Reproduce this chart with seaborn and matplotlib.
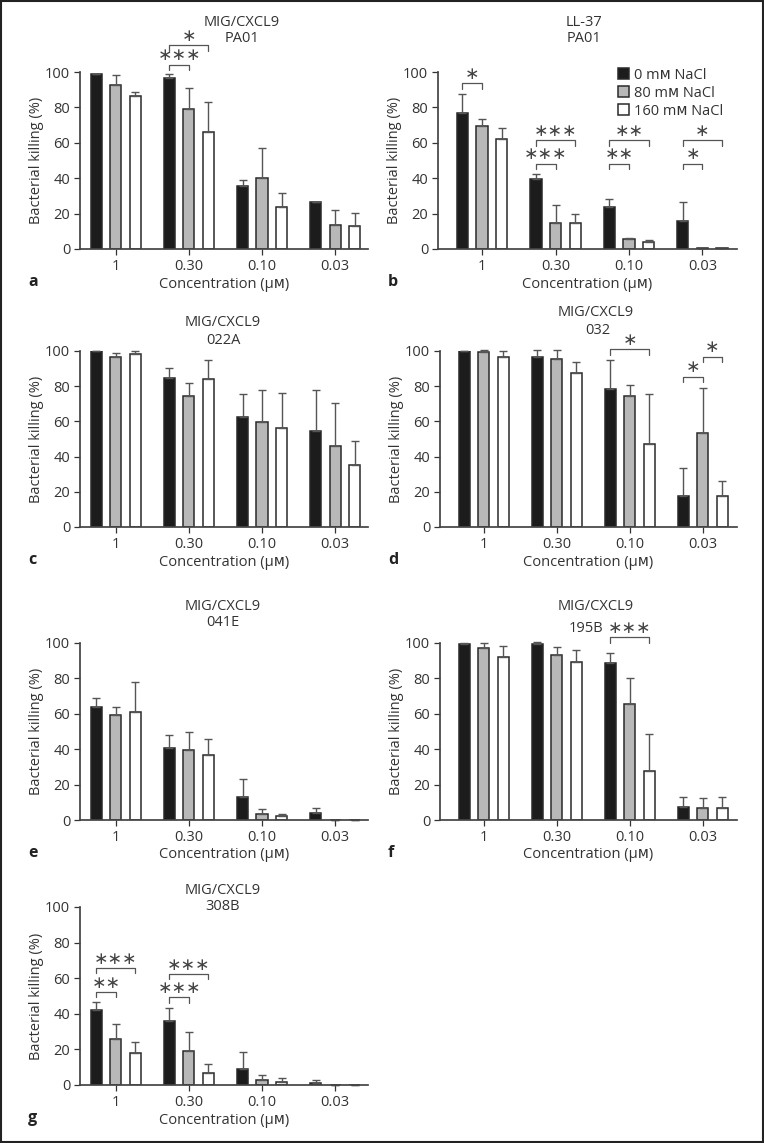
import numpy as np
import pandas as pd
import matplotlib.pyplot as plt
import seaborn as sns
from matplotlib.patches import Rectangle

# x categories and hue levels
concentrations = ["1", "0.30", "0.10", "0.03"]
salts = ["0 mᴍ NaCl", "80 mᴍ NaCl", "160 mᴍ NaCl"]

# bacterial killing (%), mean and SD per salt level
a_mean = [[99.0, 96.8, 35.4, 26.3], [92.5, 79.1, 39.9, 13.3], [86.5, 66.2, 23.5, 12.8]]
a_sd = [[0.0, 2.2, 3.6, 0.5], [5.8, 12.1, 17.2, 8.9], [2.0, 17.1, 8.1, 7.3]]

b_mean = [[77.0, 39.6, 24.0, 15.9], [69.5, 14.7, 5.5, 0.3], [62.0, 14.7, 4.2, 0.3]]
b_sd = [[10.4, 2.7, 4.1, 10.4], [3.7, 10.4, 0.7, 0.0], [6.5, 4.8, 0.7, 0.0]]

c_mean = [[99.8, 84.5, 62.6, 54.5], [96.8, 74.5, 59.4, 46.0], [98.3, 84.2, 56.2, 35.3]]
c_sd = [[0.0, 6.1, 12.9, 23.6], [2.1, 7.5, 18.7, 24.2], [1.7, 10.5, 20.0, 13.6]]

d_mean = [[100.0, 96.8, 78.5, 17.4], [99.6, 95.7, 74.2, 53.2], [96.4, 87.5, 47.2, 17.4]]
d_sd = [[0.0, 4.0, 16.2, 16.2], [1.2, 5.1, 6.4, 26.0], [3.8, 6.3, 28.1, 8.6]]

e_mean = [[63.6, 40.9, 13.2, 3.8], [59.4, 39.6, 3.2, 0.2], [60.9, 36.6, 2.3, 0.2]]
e_sd = [[5.6, 7.0, 9.8, 3.2], [4.2, 10.0, 3.0, 0.0], [17.0, 9.2, 1.1, 0.0]]

f_mean = [[99.7, 99.7, 88.7, 7.2], [97.0, 93.2, 65.8, 6.6], [92.0, 89.0, 27.9, 6.6]]
f_sd = [[0.3, 0.6, 5.6, 5.8], [2.8, 4.3, 14.4, 6.0], [6.1, 7.2, 20.6, 6.6]]

g_mean = [[42.0, 36.2, 9.2, 1.3], [26.1, 19.0, 2.6, 0.2], [18.0, 6.8, 1.9, 0.2]]
g_sd = [[4.5, 7.0, 9.6, 1.7], [8.0, 10.6, 3.2, 0.0], [6.4, 4.8, 1.9, 0.0]]

# significance brackets: (concentration index, salt i, salt j, height, label)
a_sig = [(1, 0, 2, 115, "∗"), (1, 0, 1, 104, "∗∗∗")]
b_sig = [(0, 0, 1, 93.6, "∗"),
         (1, 0, 2, 61.3, "∗∗∗"), (1, 0, 1, 48.1, "∗∗∗"),
         (2, 0, 2, 61.3, "∗∗"), (2, 0, 1, 48.1, "∗∗"),
         (3, 0, 2, 61.3, "∗"), (3, 0, 1, 48.1, "∗")]
d_sig = [(2, 0, 2, 101, "∗"), (3, 0, 1, 85.4, "∗"), (3, 1, 2, 96.8, "∗")]
f_sig = [(2, 0, 2, 103.2, "∗∗∗")]
g_sig = [(0, 0, 2, 65.7, "∗∗∗"), (0, 0, 1, 52.2, "∗∗"),
         (1, 0, 2, 62.3, "∗∗∗"), (1, 0, 1, 49.3, "∗∗∗")]

W, H = 764, 1143
TXT = "#333333"
bar_colors = ["#1c1c1c", "#b8b8b8", "#ffffff"]

sns.set_theme(style="ticks")
plt.rcParams["font.family"] = ["Open Sans", "DejaVu Sans"]
plt.rcParams["text.color"] = TXT
plt.rcParams["axes.labelcolor"] = TXT
plt.rcParams["xtick.color"] = TXT
plt.rcParams["ytick.color"] = TXT
plt.rcParams["axes.edgecolor"] = "#444444"

fig = plt.figure(figsize=(W / 100, H / 100), dpi=100)


def px_axes(left, right, top, bottom):
    return fig.add_axes([left / W, 1 - bottom / H, (right - left) / W, (bottom - top) / H])


def bar_center(ax, level, group):
    p = ax.containers[level][group]
    return p.get_x() + p.get_width() / 2


def panel(box, means, sds, titles, letter, sig, xlim, show_legend=False):
    ax = px_axes(*box)
    df = pd.DataFrame({
        "conc": np.tile(concentrations, len(salts)),
        "salt": np.repeat(salts, len(concentrations)),
        "kill": np.ravel(means),
    })
    sns.barplot(data=df, x="conc", y="kill", hue="salt", order=concentrations,
                hue_order=salts, palette=bar_colors, width=0.8, gap=0.43,
                edgecolor="#2a2a2a", linewidth=1.1, errorbar=None,
                legend=show_legend, ax=ax)

    # upper-only SD whiskers on top of each bar
    for lvl in range(len(salts)):
        for gi, p in enumerate(ax.containers[lvl]):
            x = p.get_x() + p.get_width() / 2
            ax.errorbar(x, p.get_height(), yerr=[[0], [sds[lvl][gi]]], fmt="none",
                        ecolor="#555555", elinewidth=1.0, capsize=3, capthick=1.0,
                        clip_on=False, zorder=1)

    for gi, i, j, y, lab in sig:
        x1, x2 = bar_center(ax, i, gi), bar_center(ax, j, gi)
        ax.plot([x1, x1, x2, x2], [y - 3, y, y, y - 3], color="#555555", lw=0.9,
                clip_on=False)
        ax.text((x1 + x2) / 2, y + 0.3, lab, ha="center", va="bottom", fontsize=12.5,
                color="#444444", family="DejaVu Sans", clip_on=False)

    ax.set_ylim(0, 100)
    ax.set_xlim(*xlim)
    ax.set_yticks(range(0, 101, 20))
    sns.despine(ax=ax)
    ax.spines["left"].set_bounds(0, 100)
    ax.tick_params(labelsize=10.5, length=4, width=0.9, pad=3)
    ax.set_xlabel("Concentration (μᴍ)", fontsize=10.5, labelpad=2)
    ax.set_ylabel("Bacterial killing (%)", fontsize=10.5, labelpad=1)

    # two title lines, each placed on its own
    for txt, x, y in titles:
        fig.text(x / W, 1 - y / H, txt, ha="center", va="center", fontsize=10.5)
    lx = 28 if box[0] < 300 else 388
    fig.text(lx / W, 1 - (box[3] + 33) / H, letter, ha="left", va="center",
             fontsize=11.5, fontweight="bold", color="#222222")

    if show_legend:
        h, l = ax.get_legend_handles_labels()
        ax.legend(h, l, loc="upper right", bbox_to_anchor=(0.98, 1.065), frameon=False,
                  fontsize=10.5, handlelength=0.75, handleheight=0.75,
                  handletextpad=0.4, labelspacing=0.2, borderpad=0)
    return ax


left_lim = (-0.49, 3.45)
right_lim = (-0.6, 3.47)

panel((80, 368, 72, 249), a_mean, a_sd,
      [("MIG/CXCL9", 242, 22), ("PA01", 242, 39)], "a", a_sig, left_lim)
panel((438, 737, 72, 249), b_mean, b_sd,
      [("LL-37", 584, 22), ("PA01", 584, 39)], "b", b_sig, right_lim, show_legend=True)
panel((80, 368, 351, 527), c_mean, c_sd,
      [("MIG/CXCL9", 223, 323), ("022A", 223, 341)], "c", [], left_lim)
panel((440, 737, 351, 527), d_mean, d_sd,
      [("MIG/CXCL9", 596, 313), ("032", 598, 331)], "d", d_sig, right_lim)
panel((80, 368, 643, 820), e_mean, e_sd,
      [("MIG/CXCL9", 223, 606), ("041E", 223, 623)], "e", [], left_lim)
panel((440, 737, 643, 820), f_mean, f_sd,
      [("MIG/CXCL9", 596, 607), ("195B", 586, 628)], "f", f_sig, right_lim)
panel((80, 368, 907, 1085), g_mean, g_sd,
      [("MIG/CXCL9", 223, 890), ("308B", 223, 907)], "g", g_sig, left_lim)

# thin frame round the whole figure
fig.patches.append(Rectangle((0.001, 0.001), 0.998, 0.998, transform=fig.transFigure,
                             fill=False, edgecolor="#222222", lw=1.5))

fig.savefig("out.png", dpi=100)
